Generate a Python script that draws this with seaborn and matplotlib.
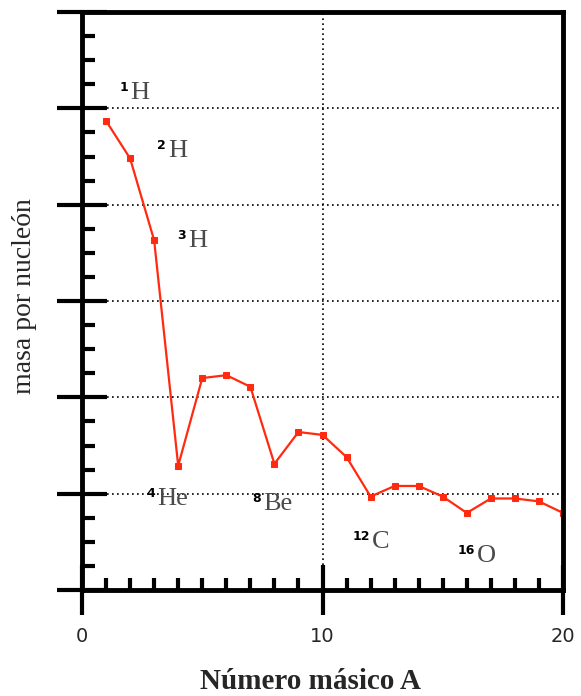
import matplotlib
matplotlib.use("Agg")
import matplotlib.pyplot as plt
import matplotlib.transforms as mtransforms
import seaborn as sns
import pandas as pd
from matplotlib.ticker import MultipleLocator

mass_number = [1, 2, 3, 4, 5, 6, 7, 8, 9, 10, 11, 12, 13, 14, 15, 16, 17, 18, 19, 20]
mass_per_nucleon = [4.87, 4.48, 3.63, 1.29, 2.20, 2.23, 2.11, 1.31, 1.64, 1.61, 1.38, 0.97,
                    1.08, 1.08, 0.97, 0.80, 0.95, 0.95, 0.92, 0.80]
label_numbers = ["1", "2", "3", "4", "8", "12", "16"]
label_elements = ["H", "H", "H", "He", "Be", "C", "O"]
label_x = [2.0, 3.58, 4.41, 3.12, 7.53, 12.06, 16.42]
label_y = [5.10, 4.49, 3.56, 0.88, 0.83, 0.44, 0.29]

sns.set_style("white")
plt.rcParams["font.family"] = ["DejaVu Sans"]

fig = plt.figure(figsize=(5.81, 6.96), dpi=100)
ax = fig.add_axes([82/581, 1-590/696, (563-82)/581, (590-12)/696])

df = pd.DataFrame({"A": mass_number, "m": mass_per_nucleon})
sns.lineplot(data=df, x="A", y="m", ax=ax, color="#ff2a10", marker="s", markersize=4.5,
             markeredgecolor="#ff2a10", linewidth=1.6)

ax.set_xlim(0, 20)
ax.set_ylim(0, 6)
ax.xaxis.set_major_locator(MultipleLocator(10))
ax.xaxis.set_minor_locator(MultipleLocator(1))
ax.yaxis.set_major_locator(MultipleLocator(1))
ax.yaxis.set_minor_locator(MultipleLocator(0.25))
ax.set_yticklabels([])
ax.tick_params(axis="x", which="major", direction="inout", length=36, width=3, pad=9,
               labelsize=14, color="black")
ax.tick_params(axis="x", which="minor", direction="in", length=9, width=3, color="black")
ax.tick_params(axis="y", which="major", direction="inout", length=36, width=3, color="black")
ax.tick_params(axis="y", which="minor", direction="in", length=9, width=3, color="black")
ax.tick_params(left=True, bottom=True, which="both")

for s in ax.spines.values():
    s.set_linewidth(3.5)
    s.set_color("black")

for yv in [1, 2, 3, 4, 5]:
    ax.axhline(yv, color="black", linestyle=(0, (1, 2)), linewidth=1.2, zorder=0)
ax.axvline(10, color="black", linestyle=(0, (1, 2)), linewidth=1.2, zorder=0)

for num, el, xv, yv in zip(label_numbers, label_elements, label_x, label_y):
    ax.text(xv, yv, el, fontsize=19, color="#4a4a4a", ha="left", va="baseline",
            family="Liberation Serif")
    tr = ax.transData + mtransforms.ScaledTranslation(-2/100, 18/100, fig.dpi_scale_trans)
    ax.text(xv, yv, num, fontsize=9, color="black", ha="right", va="top",
            family="DejaVu Sans", fontweight="bold", transform=tr)

ax.set_ylabel("masa por nucleón", fontsize=20, family="Liberation Serif")
ax.yaxis.set_label_coords(-0.0936, 0.509)
ax.set_xlabel("Número másico A", fontsize=21, family="Liberation Serif", fontweight="bold")
ax.xaxis.set_label_coords(0.476, -0.135)

fig.savefig("out.png", dpi=100)
